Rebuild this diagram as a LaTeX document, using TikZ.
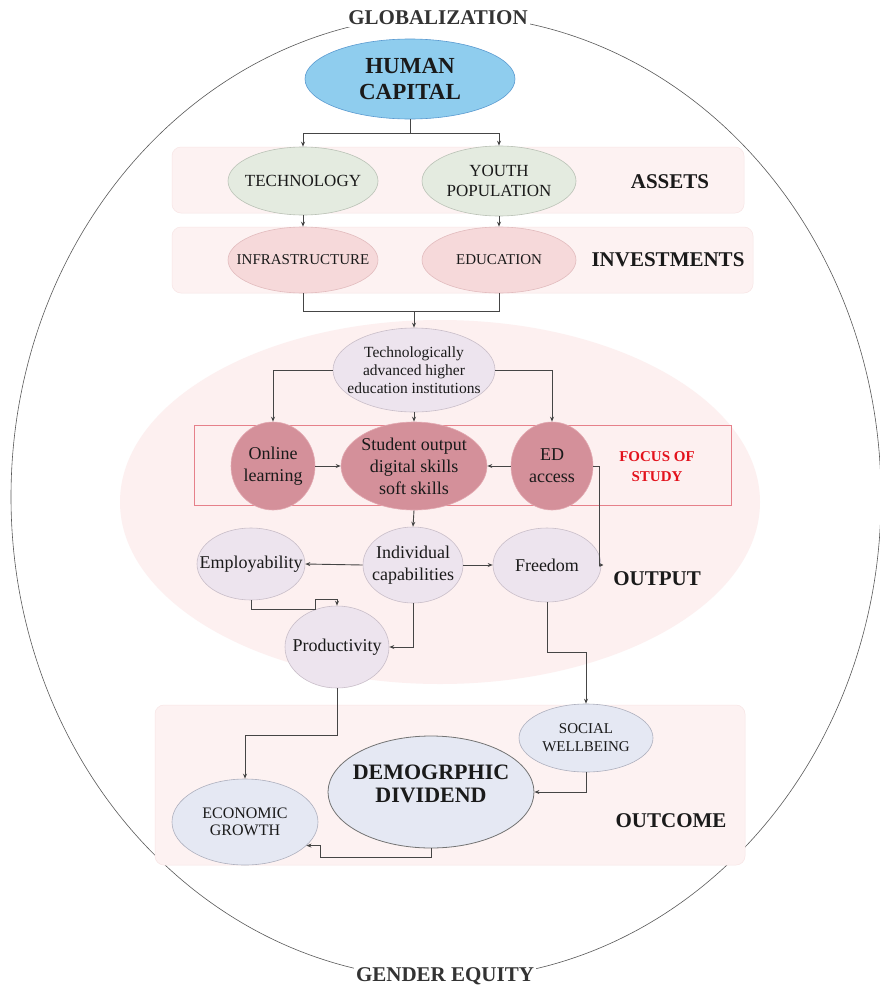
\documentclass[tikz,border=0pt]{standalone}
\usepackage{fontspec}
\setmainfont{Liberation Serif}
\usetikzlibrary{shapes.geometric,arrows.meta,calc}
\definecolor{txt}{HTML}{1A1A1A}
\definecolor{lnc}{HTML}{454545}
\definecolor{hcfill}{HTML}{8FCDEE}
\definecolor{hcdraw}{HTML}{5A9AD0}
\definecolor{assetfill}{HTML}{E4EBE0}
\definecolor{assetdraw}{HTML}{BAC2B6}
\definecolor{invfill}{HTML}{F6D9DA}
\definecolor{invdraw}{HTML}{E2BCBE}
\definecolor{bandfill}{HTML}{FDF2F2}
\definecolor{banddraw}{HTML}{F8E5E5}
\definecolor{outfill}{HTML}{FDF0F0}
\definecolor{lavfill}{HTML}{EDE4EE}
\definecolor{lavdraw}{HTML}{C9BEC9}
\definecolor{rosefill}{HTML}{D4909A}
\definecolor{rosedraw}{HTML}{E3A9B1}
\definecolor{focusred}{HTML}{E6808A}
\definecolor{studyred}{HTML}{E3121C}
\definecolor{blufill}{HTML}{E5E8F3}
\definecolor{bludraw}{HTML}{AEB0BE}
\tikzset{
  ell/.style={ellipse, inner sep=0pt, line width=0.6pt},
  lab/.style={align=center, text=txt, inner sep=0pt},
  arr/.style={draw=lnc, line width=0.9pt, -{Stealth[length=5pt,width=4pt]}},
  plain/.style={draw=lnc, line width=0.9pt},
  band/.style={fill=bandfill, draw=banddraw, line width=0.5pt, rounded corners=9pt},
  side/.style={text=txt, inner sep=0pt, font=\bfseries\fontsize{21}{24}\selectfont},
  edge/.style={fill=white, text=black!80, inner sep=2pt, font=\bfseries\fontsize{21}{24}\selectfont}
}
\begin{document}
\begin{tikzpicture}[x=1pt,y=-1pt]
\useasboundingbox (0,0) rectangle (880,996);
\fill[white] (0,0) rectangle (880,996);

% outer ellipse
\draw[black!65, line width=0.6pt] (446,497) ellipse [x radius=435pt, y radius=482pt];
\node[edge] (glob) at (438,18) {GLOBALIZATION};
\node[edge] (gender) at (445,976) {GENDER EQUITY};

% bands
\draw[band] (172,147) rectangle (744,213);
\draw[band] (172,227) rectangle (753,293);
\draw[band] (155,705) rectangle (745,865);
\fill[outfill] (440,502) ellipse [x radius=320pt, y radius=182pt];

% focus rectangle
\draw[focusred, line width=0.8pt] (194,425) rectangle (731,505);

% side labels
\node[side] (assets) at (670,182) {ASSETS};
\node[side] (invest) at (668,260) {INVESTMENTS};
\node[side, text=studyred, align=center, font=\bfseries\fontsize{15}{20}\selectfont] (focus) at (657,467) {FOCUS OF\\STUDY};
\node[side] (output) at (657,579) {OUTPUT};
\node[side] (outcome) at (671,821) {OUTCOME};

% nodes
\node[ell, fill=hcfill, draw=hcdraw, minimum width=210pt, minimum height=80pt,
  label={[lab, font=\bfseries\fontsize{23}{26}\selectfont]center:{HUMAN\\CAPITAL}}] (hc) at (410,79) {};

\node[ell, fill=assetfill, draw=assetdraw, minimum width=150pt, minimum height=68pt,
  label={[lab, font=\fontsize{17}{20}\selectfont]center:{TECHNOLOGY}}] (tech) at (303,181) {};
\node[ell, fill=assetfill, draw=assetdraw, minimum width=154pt, minimum height=70pt,
  label={[lab, font=\fontsize{17}{20}\selectfont]center:{YOUTH\\POPULATION}}] (youth) at (499,181) {};

\node[ell, fill=invfill, draw=invdraw, minimum width=150pt, minimum height=66pt,
  label={[lab, font=\fontsize{15}{18}\selectfont]center:{INFRASTRUCTURE}}] (infra) at (303,260) {};
\node[ell, fill=invfill, draw=invdraw, minimum width=154pt, minimum height=66pt,
  label={[lab, font=\fontsize{15}{18}\selectfont]center:{EDUCATION}}] (edu) at (499,260) {};

\node[ell, fill=lavfill, draw=lavdraw, minimum width=162pt, minimum height=84pt,
  label={[lab, font=\fontsize{15.5}{18}\selectfont]center:{Technologically\\advanced higher\\education institutions}}] (hei) at (414,370) {};

\node[ell, fill=rosefill, draw=rosedraw, minimum width=84pt, minimum height=88pt,
  label={[lab, font=\fontsize{18}{22}\selectfont]center:{Online\\learning}}] (ol) at (273,466) {};
\node[ell, fill=rosefill, draw=rosedraw, minimum width=146pt, minimum height=88pt,
  label={[lab, font=\fontsize{18}{22}\selectfont]center:{Student output\\digital skills\\soft skills}}] (so) at (414,466) {};
\node[ell, fill=rosefill, draw=rosedraw, minimum width=82pt, minimum height=88pt,
  label={[lab, font=\fontsize{18}{22}\selectfont]center:{ED\\access}}] (ed) at (552,466) {};

\node[ell, fill=lavfill, draw=lavdraw, minimum width=100pt, minimum height=76pt,
  label={[lab, font=\fontsize{18}{22}\selectfont]center:{Individual\\capabilities}}] (ic) at (413,565) {};
\node[ell, fill=lavfill, draw=lavdraw, minimum width=108pt, minimum height=72pt,
  label={[lab, font=\fontsize{18}{22}\selectfont]center:{Employability}}] (emp) at (251,564) {};
\node[ell, fill=lavfill, draw=lavdraw, minimum width=108pt, minimum height=74pt,
  label={[lab, font=\fontsize{18}{22}\selectfont]center:{Freedom}}] (fr) at (547,565) {};
\node[ell, fill=lavfill, draw=lavdraw, minimum width=104pt, minimum height=82pt,
  label={[lab, font=\fontsize{18}{22}\selectfont]center:{Productivity}}] (prod) at (337,647) {};

\node[ell, fill=blufill, draw=bludraw, minimum width=134pt, minimum height=68pt,
  label={[lab, font=\fontsize{15}{18}\selectfont]center:{SOCIAL\\WELLBEING}}] (sw) at (586,738) {};
\node[ell, fill=blufill, draw=black!55, line width=0.8pt, minimum width=206pt, minimum height=112pt,
  label={[lab, yshift=8pt, font=\bfseries\fontsize{22}{23}\selectfont]center:{DEMOGRPHIC\\DIVIDEND}}] (dd) at (431,792) {};
\node[ell, fill=blufill, draw=bludraw, minimum width=146pt, minimum height=86pt,
  label={[lab, font=\fontsize{16}{17.5}\selectfont]center:{ECONOMIC\\GROWTH}}] (eg) at (245,822) {};

% connectors
\draw[plain] (hc.south) -- ++(0,14) coordinate (hcj);
\draw[arr] (hcj) -| (tech.north);
\draw[arr] (hcj) -| (youth.north);
\draw[arr] (tech) -- (infra);
\draw[arr] (youth) -- (edu);
\draw[plain] (infra.south) -- ++(0,18) coordinate (il) -| (edu.south);
\draw[arr] (il -| hei.north) -- (hei.north);
\draw[arr] (hei.west) -| (ol.north);
\draw[arr] (hei.east) -| (ed.north);
\draw[arr] (hei.south) -- (so.north);
\draw[arr] (ol.east) -- (so.west);
\draw[arr] (ed.west) -- (so.east);
\draw[arr, -{Stealth[length=4pt,width=4pt]}] (ed.east) -- ++(6,0) |- ([xshift=2pt]fr.east);
\draw[arr] (so.south) -- (ic.north);
\draw[arr] (ic.west) -- (emp.east);
\draw[arr] (ic.east) -- (fr.west);
\draw[arr] (emp.south) -- ++(0,9) -- ++(64,0) -- ++(0,-10) -| (prod.north);
\draw[arr] (ic.south) |- (prod.east);
\draw[arr] (prod.south) -- ++(0,47) -| (eg.north);
\draw[arr] (fr.south) -- ++(0,50) -| (sw.north);
\draw[arr] (sw.south) |- (dd.east);
\draw[arr] (dd.south) -- ++(0,9) -| ([xshift=14pt]eg.-21) -- (eg.-21);
\end{tikzpicture}
\end{document}
